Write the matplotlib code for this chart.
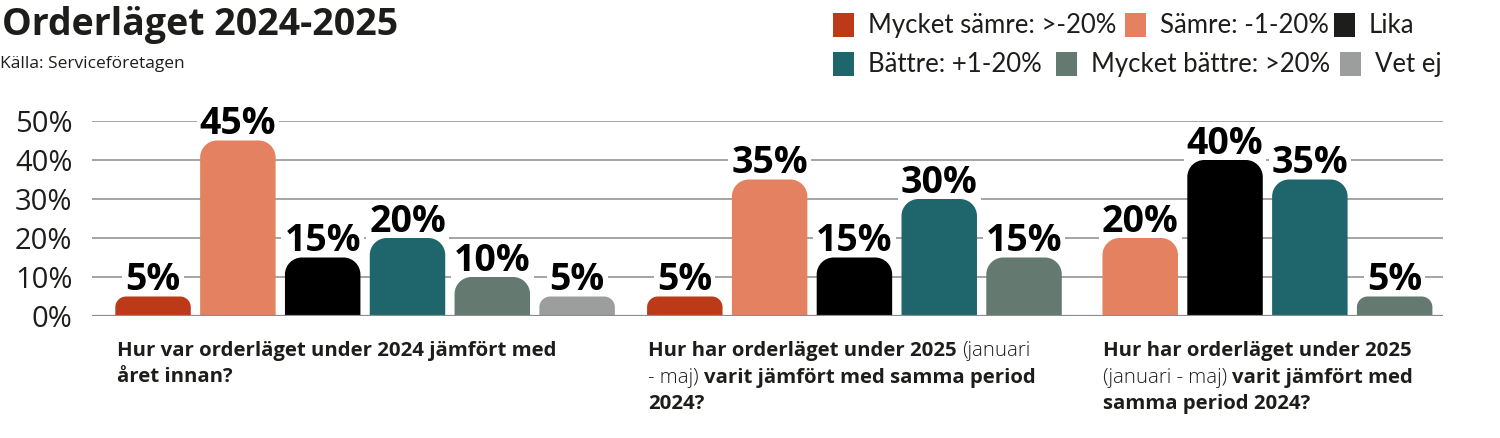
"""
Orderläget 2024-2025 - grupperade staplar
"""
import matplotlib
matplotlib.use("Agg")
import matplotlib.pyplot as plt
from matplotlib.patches import PathPatch, Rectangle
from matplotlib.path import Path

# ----- data -----
categories = ["Mycket sämre: >-20%", "Sämre: -1-20%", "Lika",
              "Bättre: +1-20%", "Mycket bättre: >20%", "Vet ej"]
colors = ["#BD3A19", "#E48160", "#000000", "#1F666C", "#64796F", "#9C9E9D"]
legend_colors = ["#BD3A19", "#E48160", "#1D1D1B", "#1F666C", "#64796F", "#9C9E9D"]

q1_values = [5, 45, 15, 20, 10, 5]
q2_values = [5, 35, 15, 30, 15, None]
q3_values = [None, 20, 40, 35, 5, None]
groups = [q1_values, q2_values, q3_values]

# frågetexter: lista av rader, varje rad = lista av (text, fet?)
q_labels = [
    [[("Hur var orderläget under 2024 jämfört med", True)],
     [("året innan?", True)]],
    [[("Hur har orderläget under 2025 ", True), ("(januari", False)],
     [("- maj) ", False), ("varit jämfört med samma period", True)],
     [("2024?", True)]],
    [[("Hur har orderläget under 2025", True)],
     [("(januari - maj) ", False), ("varit jämfört med", True)],
     [("samma period 2024?", True)]],
]
yticks = [0, 10, 20, 30, 40, 50]

# ----- layout -----
W, H = 1500, 438
FONT = "Open Sans"
TXT = "#1D1D1B"
group_start = [0, 6.27, 11.64]
bar_w = 0.89
xlim = (-0.72, 15.21)
ax_l, ax_r, ax_top, ax_bot = 92, 1443, 121, 316

plt.rcParams["font.family"] = [FONT, "DejaVu Sans"]
fig = plt.figure(figsize=(15, 4.38), dpi=100)
ax = fig.add_axes([ax_l / W, 1 - ax_bot / H, (ax_r - ax_l) / W, (ax_bot - ax_top) / H])
ax.set_xlim(*xlim)
ax.set_ylim(0, 50)
for s in ax.spines.values():
    s.set_visible(False)
ax.set_xticks([])
ax.set_yticks(yticks)
ax.set_yticklabels([f"{t}%" for t in yticks])
ax.tick_params(axis="y", length=0, pad=14, labelsize=21, labelcolor=TXT)
for t in yticks[1:]:
    ax.axhline(t, color="#8C8C8C", lw=1.1, zorder=0)
ax.axhline(0, color="#8C8C8C", lw=1.6, zorder=6)

px_x = (ax_r - ax_l) / (xlim[1] - xlim[0])
px_y = (ax_bot - ax_top) / 50.0


def rounded_bar(xc, h, color, r_px=17):
    r = min(r_px, h * px_y * 0.55)
    rx, ry = r / px_x, r / px_y
    x0, x1 = xc - bar_w / 2, xc + bar_w / 2
    k = 0.5523
    verts = [(x0, 0), (x0, h - ry), (x0, h - ry + k * ry), (x0 + rx - k * rx, h),
             (x0 + rx, h), (x1 - rx, h), (x1 - rx + k * rx, h), (x1, h - ry + k * ry),
             (x1, h - ry), (x1, 0), (x0, 0)]
    codes = [Path.MOVETO, Path.LINETO, Path.CURVE4, Path.CURVE4, Path.CURVE4,
             Path.LINETO, Path.CURVE4, Path.CURVE4, Path.CURVE4, Path.LINETO,
             Path.CLOSEPOLY]
    ax.add_patch(PathPatch(Path(verts, codes), fc=color, ec="none", zorder=5))


for g, vals in enumerate(groups):
    pos = group_start[g]
    for i, v in enumerate(vals):
        if v is None:
            continue
        rounded_bar(pos, v, colors[i])
        ax.annotate(f"{v}%", (pos, v), xytext=(0, 4.5), textcoords="offset points",
                    ha="center", va="baseline", fontsize=27, fontweight="bold",
                    color="black", zorder=4,
                    bbox=dict(boxstyle="square,pad=0.08", fc="white", ec="none"))
        pos += 1

# ----- rubriker -----
fig.text(2 / W, 1 - 35 / H, "Orderläget 2024-2025", fontsize=27, fontweight="bold",
         color=TXT, va="baseline")
fig.text(0 / W, 1 - 68 / H, "Källa: Serviceföretagen", fontsize=12.5, color=TXT,
         va="baseline")

# ----- legend -----
leg_sq_x = [833, 1125, 1334, 833, 1056, 1340]
leg_row_top = [13, 13, 13, 52, 52, 52]
for i, lab in enumerate(categories):
    x, y = leg_sq_x[i], leg_row_top[i]
    fig.patches.append(Rectangle((x / W, 1 - (y + 24) / H), 21 / W, 24 / H,
                                 transform=fig.transFigure, fc=legend_colors[i], ec="none"))
    fig.text((x + 35) / W, 1 - (y + 20) / H, lab, fontsize=18.5, color=TXT,
             va="baseline", family=["Lato", "DejaVu Sans"])

# ----- frågetexter -----
renderer = fig.canvas.get_renderer()
q_x = [117, 648, 1103]
for g, lines in enumerate(q_labels):
    for li, parts in enumerate(lines):
        x = q_x[g]
        y = 356 + li * 26.5
        for txt, bold in parts:
            t = fig.text(x / W, 1 - y / H, txt, fontsize=14.7, color=TXT, va="baseline",
                         fontweight="bold" if bold else "light")
            x += t.get_window_extent(renderer).width

fig.savefig("out.png", dpi=100, facecolor="white")
